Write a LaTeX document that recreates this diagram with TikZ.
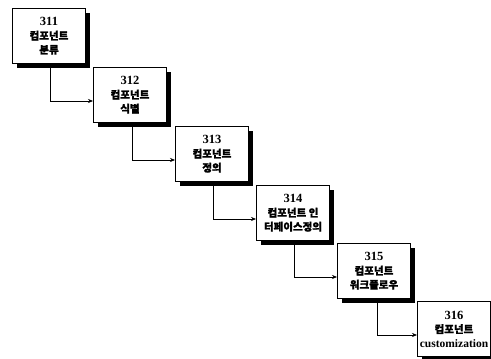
\documentclass[tikz,border=0pt]{standalone}
\usepackage{fontspec}
\setmainfont{Liberation Serif}
\newfontfamily\kr{Noto Sans CJK KR}[BoldFeatures={FakeBold=1.2}]
\usetikzlibrary{arrows.meta,shadows}
\newcommand\nm[1]{{\fontsize{12.5}{13.5}\selectfont\bfseries #1}}
\newcommand\kt[1]{{\kr\fontsize{10.5}{13.5}\selectfont\bfseries #1}}
\begin{document}
\begin{tikzpicture}[x=1pt,y=-1pt,
  box/.style={draw=black, line width=1pt, fill=white, minimum width=73pt, minimum height=55pt,
    anchor=north west, inner sep=0pt, align=center, font=\fontsize{10}{14}\selectfont,
    drop shadow={shadow xshift=4pt, shadow yshift=-4pt, fill=black, opacity=1}},
  arr/.style={draw=black, line width=0.6pt, -{Stealth[length=5pt,width=4pt]}}]
\useasboundingbox (0,0) rectangle (491,359);
\node[box] (b1) at (12,8)    {\nm{311}\\\kt{컴포넌트}\\\kt{분류}};
\node[box] (b2) at (93,67)   {\nm{312}\\\kt{컴포넌트}\\\kt{식별}};
\node[box] (b3) at (175,126) {\nm{313}\\\kt{컴포넌트}\\\kt{정의}};
\node[box] (b4) at (256,185) {\nm{314}\\\kt{컴포넌트 인}\\\kt{터페이스정의}};
\node[box] (b5) at (337,243) {\nm{315}\\\kt{컴포넌트}\\\kt{워크플로우}};
\node[box] (b6) at (417,301) {\nm{316}\\\kt{컴포넌트}\\{\fontsize{11.5}{13.5}\selectfont\bfseries customization}};
\draw[arr] ([xshift=1pt]b1.south) |- ([yshift=-6pt]b2.west);
\draw[arr] ([xshift=2pt]b2.south) |- ([yshift=-6pt]b3.west);
\draw[arr] ([xshift=1pt]b3.south) |- ([yshift=-6pt]b4.west);
\draw[arr] ([xshift=1pt]b4.south) |- ([yshift=-6pt]b5.west);
\draw[arr] ([xshift=3pt]b5.south) |- ([yshift=-6pt]b6.west);
\end{tikzpicture}
\end{document}
